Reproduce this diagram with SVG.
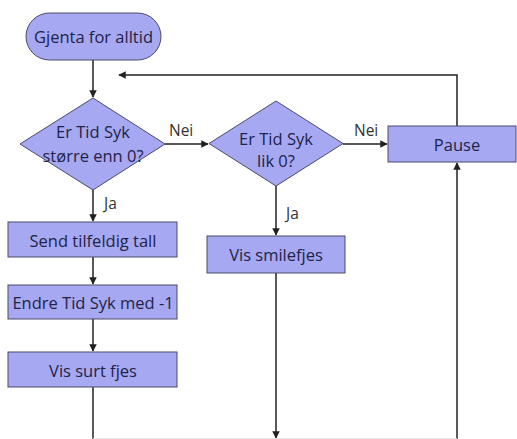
<svg xmlns="http://www.w3.org/2000/svg" width="517" height="439" viewBox="0 0 517 439">
  <style>
    .shape { fill: #a6a8f2; stroke: #4a4a6a; stroke-width: 1; }
    .label { font-family: "Open Sans", "Liberation Sans", sans-serif; font-size: 16.5px; fill: #1e2347; text-anchor: middle; dominant-baseline: central; }
    .edge-label { font-family: "Open Sans", "Liberation Sans", sans-serif; font-size: 15.5px; fill: #333; dominant-baseline: central; }
    .wire { fill: none; stroke: #222; stroke-width: 1.5; }
  </style>
  <defs>
    <marker id="arrow" viewBox="0 0 10 10" refX="9" refY="5" markerWidth="5" markerHeight="5" orient="auto-start-reverse">
      <path d="M0,0 L10,5 L0,10 z" fill="#222"/>
    </marker>
  </defs>
  <rect width="517" height="439" fill="#fff"/>

  <g id="connectors">
    <path class="wire" d="M93,60 V97" marker-end="url(#arrow)"/>
    <path class="wire" d="M165,144 H208" marker-end="url(#arrow)"/>
    <path class="wire" d="M343,144 H387" marker-end="url(#arrow)"/>
    <path class="wire" d="M93,190 V221" marker-end="url(#arrow)"/>
    <path class="wire" d="M93,257 V284" marker-end="url(#arrow)"/>
    <path class="wire" d="M93,319 V351" marker-end="url(#arrow)"/>
    <path class="wire" d="M93,387 V439"/>
    <path class="wire" d="M276,186 V235" marker-end="url(#arrow)"/>
    <path class="wire" d="M276,273 V438" marker-end="url(#arrow)"/>
    <path class="wire" d="M457,439 V163" marker-end="url(#arrow)"/>
    <path class="wire" d="M457,126 V75 H119" marker-end="url(#arrow)"/>
    <line x1="93" y1="438.5" x2="457" y2="438.5" stroke="#e6e6e6" stroke-width="1"/>
    <text class="edge-label" x="169" y="130">Nei</text>
    <text class="edge-label" x="354" y="130">Nei</text>
    <text class="edge-label" x="104" y="203">Ja</text>
    <text class="edge-label" x="286" y="213">Ja</text>
  </g>

  <g id="start">
    <rect class="shape" x="26" y="13" width="135" height="47" rx="23.5"/>
    <text class="label" x="93.5" y="36.5">Gjenta for alltid</text>
  </g>

  <g id="check-positive">
    <polygon class="shape" points="93,98 165,144 93,190 20,144"/>
    <text class="label" x="93" y="131">Er Tid Syk</text>
    <text class="label" x="93" y="155">større enn 0?</text>
  </g>

  <g id="check-zero">
    <polygon class="shape" points="276,101 343,143.5 276,186 209,143.5"/>
    <text class="label" x="276" y="138">Er Tid Syk</text>
    <text class="label" x="276" y="160">lik 0?</text>
  </g>

  <g id="pause">
    <rect class="shape" x="388" y="126" width="128" height="36"/>
    <text class="label" x="457" y="144">Pause</text>
  </g>

  <g id="send-random">
    <rect class="shape" x="8" y="222" width="169" height="35"/>
    <text class="label" x="93" y="240">Send tilfeldig tall</text>
  </g>

  <g id="decrement">
    <rect class="shape" x="8" y="285" width="169" height="34"/>
    <text class="label" x="93" y="302">Endre Tid Syk med -1</text>
  </g>

  <g id="sad-face">
    <rect class="shape" x="8" y="352" width="169" height="35"/>
    <text class="label" x="93" y="370">Vis surt fjes</text>
  </g>

  <g id="smiley">
    <rect class="shape" x="207" y="236" width="138" height="37"/>
    <text class="label" x="276" y="254">Vis smilefjes</text>
  </g>
</svg>
